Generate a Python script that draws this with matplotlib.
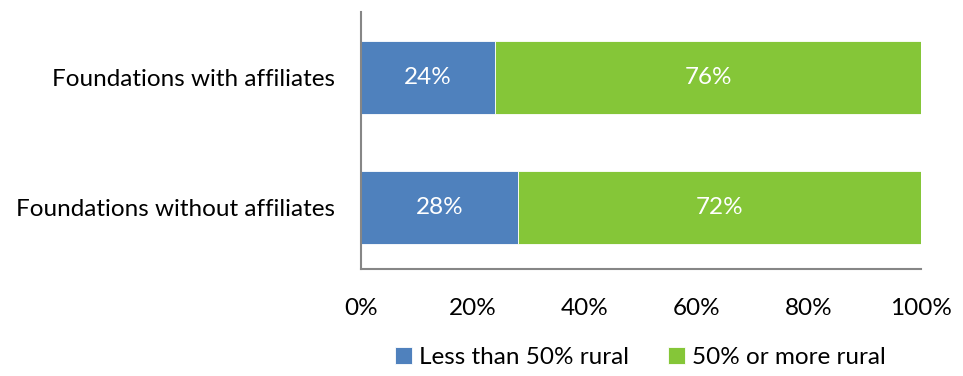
import matplotlib.pyplot as plt

# data
categories = ["Foundations without affiliates", "Foundations with affiliates"]
less_than_50 = [28, 24]
fifty_or_more = [72, 76]
series_names = ["Less than 50% rural", "50% or more rural"]
tick_vals = [0, 20, 40, 60, 80, 100]
tick_labels = ["0%", "20%", "40%", "60%", "80%", "100%"]

plt.rcParams['font.family'] = ['Lato', 'DejaVu Sans']

BLUE = "#4F81BD"
GREEN = "#85C638"
FS = 17.5

fig = plt.figure(figsize=(9.63, 3.76), dpi=100)
ax = fig.add_axes([0.3749, 0.2846, 0.5815, 0.6834])

y = range(len(categories))
b1 = ax.barh(y, less_than_50, height=0.56, color=BLUE, edgecolor="white", linewidth=0.6)
b2 = ax.barh(y, fifty_or_more, left=less_than_50, height=0.56, color=GREEN,
             edgecolor="white", linewidth=0.6)

# value labels inside the segments
for bars, vals, lefts in [(b1, less_than_50, [0, 0]), (b2, fifty_or_more, less_than_50)]:
    for bar, v, l in zip(bars, vals, lefts):
        ax.text(l + v / 2, bar.get_y() + bar.get_height() / 2, f"{v}%",
                ha="center", va="center", color="white", fontsize=FS)

ax.set_xlim(0, 100)
ax.set_ylim(-0.473, 1.504)
ax.set_xticks(tick_vals)
ax.set_xticklabels(tick_labels, fontsize=FS)
ax.set_yticks(list(y))
ax.set_yticklabels(categories, fontsize=FS)
ax.tick_params(length=0, pad=21, axis="x")
ax.tick_params(length=0, pad=19, axis="y")

for s in ["top", "right"]:
    ax.spines[s].set_visible(False)
for s in ["left", "bottom"]:
    ax.spines[s].set_color("#868686")
    ax.spines[s].set_linewidth(1.5)

fig.legend([b1, b2], series_names, loc="center", bbox_to_anchor=(0.665, 0.048),
           ncol=2, frameon=False, fontsize=FS, handlelength=0.7, handleheight=0.7,
           handletextpad=0.3, columnspacing=1.6)

fig.savefig("out.png", dpi=100)
